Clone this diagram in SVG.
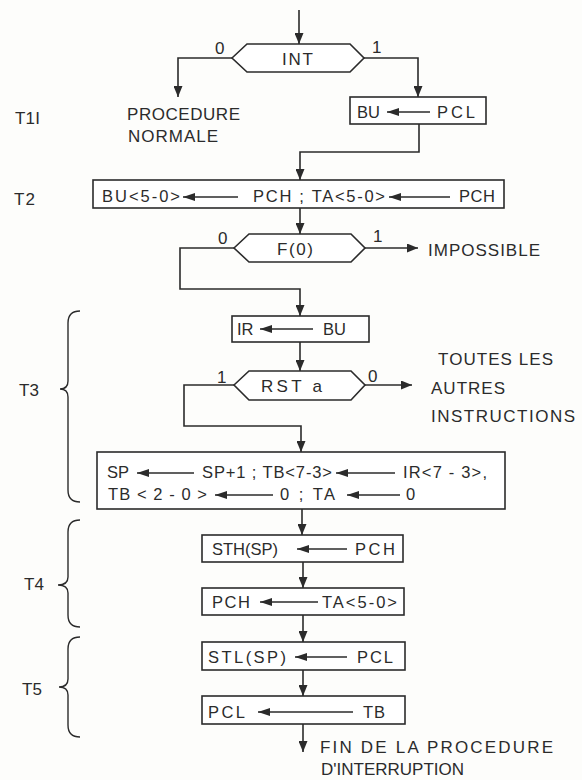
<svg xmlns="http://www.w3.org/2000/svg" width="582" height="780" viewBox="0 0 582 780">
<defs>
<marker id="ah" viewBox="0 0 11 9" refX="11" refY="4.5" markerWidth="11" markerHeight="9" markerUnits="userSpaceOnUse" orient="auto">
<path d="M0,0 L11,4.5 L0,9 z" fill="#2b2b2b"/>
</marker>
<marker id="th" viewBox="0 0 12 8" refX="12" refY="4" markerWidth="12" markerHeight="8" markerUnits="userSpaceOnUse" orient="auto">
<path d="M0,0 L12,4 L0,8 z" fill="#2b2b2b"/>
</marker>
<style>
text{font-family:"Liberation Sans","DejaVu Sans",Arial,sans-serif;font-size:17px;fill:#2b2b2b}
.bx{fill:#fff;stroke:#2b2b2b;stroke-width:1.6}
.cn{fill:none;stroke:#2b2b2b;stroke-width:1.6;marker-end:url(#ah)}
.ta{fill:none;stroke:#2b2b2b;stroke-width:1.6;marker-end:url(#th)}
.br{fill:none;stroke:#2b2b2b;stroke-width:1.4}
.bt{font-size:16.5px}
</style>
</defs>
<rect width="582" height="780" fill="#fdfdfb"/>

<g id="connectors">
<path class="cn" d="M299,10 V44"/>
<path class="cn" d="M232,58 H178 V97"/>
<path class="cn" d="M364,58 H418 V97"/>
<path class="cn" d="M419,124 V152 H300 V180"/>
<path class="cn" d="M300,208 V234"/>
<path class="cn" d="M365,248 H418"/>
<path class="cn" d="M234,248 H180 V289 H300 V316"/>
<path class="cn" d="M300,342 V371"/>
<path class="cn" d="M365,385 H412"/>
<path class="cn" d="M234,385 H184 V426 H301 V452"/>
<path class="cn" d="M302,509 V535"/>
<path class="cn" d="M303,562 V588"/>
<path class="cn" d="M303,615 V642"/>
<path class="cn" d="M303,670 V696"/>
<path class="cn" d="M303,724 V752"/>
</g>

<g id="labels-time">
<text x="15" y="124" textLength="25">T1I</text>
<text x="14" y="205" textLength="21">T2</text>
<text x="19" y="396">T3</text>
<text x="24" y="590">T4</text>
<text x="22" y="695">T5</text>
<path class="br" d="M80,311 Q68,311 68,323 V381 Q68,389 60,389 Q68,389 68,397 V490 Q68,502 80,502"/>
<path class="br" d="M80,520 Q68,520 68,532 V577 Q68,585 58,585 Q68,585 68,593 V615 Q68,627 80,627"/>
<path class="br" d="M80,637 Q68,637 68,649 V679 Q68,687 59,687 Q68,687 68,695 V725 Q68,737 80,737"/>
</g>

<g id="int">
<polygon class="bx" points="232,58 247,44 350,44 364,58 350,72 247,72"/>
<text x="282" y="65" textLength="31">INT</text>
<text x="215" y="54">0</text>
<text x="372" y="53">1</text>
</g>

<g id="normale">
<text x="127" y="120" textLength="113">PROCEDURE</text>
<text x="128" y="142" textLength="90">NORMALE</text>
</g>

<g id="bu-pcl">
<rect class="bx" x="350" y="97" width="136" height="27"/>
<text class="bt" x="357" y="118">BU</text>
<path class="ta" d="M430,112 H387"/>
<text class="bt" x="437" y="118" textLength="38">PCL</text>
</g>

<g id="t2-box">
<rect class="bx" x="93" y="180" width="411" height="28"/>
<text class="bt" x="102" y="202" textLength="78">BU&lt;5-0&gt;</text>
<path class="ta" d="M238,197 H183"/>
<text class="bt" x="253" y="202" textLength="132">PCH ; TA&lt;5-0&gt;</text>
<path class="ta" d="M450,197 H389"/>
<text class="bt" x="459" y="202" textLength="36">PCH</text>
</g>

<g id="f0">
<polygon class="bx" points="234,248 249,234 351,234 365,248 351,262 249,262"/>
<text x="277" y="255" textLength="36">F(0)</text>
<text x="218" y="244">0</text>
<text x="373" y="242">1</text>
<text x="428" y="256" textLength="112">IMPOSSIBLE</text>
</g>

<g id="ir-bu">
<rect class="bx" x="232" y="316" width="137" height="26"/>
<text class="bt" x="237" y="335">IR</text>
<path class="ta" d="M313,329 H260"/>
<text class="bt" x="323" y="335">BU</text>
</g>

<g id="rst">
<polygon class="bx" points="234,385 249,371 351,371 365,385 351,400 249,400"/>
<text x="261" y="392" textLength="61">RST a</text>
<text x="217" y="383">1</text>
<text x="368" y="382">0</text>
<text x="438" y="365" textLength="115">TOUTES LES</text>
<text x="431" y="394" textLength="74">AUTRES</text>
<text x="431" y="422" textLength="144">INSTRUCTIONS</text>
</g>

<g id="sp-box">
<rect class="bx" x="97" y="452" width="408" height="57"/>
<text class="bt" x="107" y="478">SP</text>
<path class="ta" d="M194,473 H137"/>
<text class="bt" x="202" y="478" textLength="130">SP+1 ; TB&lt;7-3&gt;</text>
<path class="ta" d="M395,473 H336"/>
<text class="bt" x="403" y="478" textLength="84">IR&lt;7 - 3&gt;,</text>
<text class="bt" x="108" y="500" textLength="99">TB &lt; 2 - 0 &gt;</text>
<path class="ta" d="M273,495 H215"/>
<text class="bt" x="280" y="500" textLength="55">0 ; TA</text>
<path class="ta" d="M400,495 H347"/>
<text class="bt" x="406" y="500">0</text>
</g>

<g id="sth">
<rect class="bx" x="202" y="535" width="201" height="27"/>
<text class="bt" x="212" y="555" textLength="66">STH(SP)</text>
<path class="ta" d="M347,549 H297"/>
<text class="bt" x="355" y="555" textLength="40">PCH</text>
</g>

<g id="pch">
<rect class="bx" x="202" y="588" width="202" height="27"/>
<text class="bt" x="212" y="608" textLength="38">PCH</text>
<path class="ta" d="M318,602 H260"/>
<text class="bt" x="322" y="608" textLength="75">TA&lt;5-0&gt;</text>
</g>

<g id="stl">
<rect class="bx" x="202" y="642" width="203" height="28"/>
<text class="bt" x="208" y="663" textLength="78">STL(SP)</text>
<path class="ta" d="M347,657 H295"/>
<text class="bt" x="357" y="663" textLength="36">PCL</text>
</g>

<g id="pcl">
<rect class="bx" x="202" y="696" width="203" height="28"/>
<text class="bt" x="208" y="718" textLength="37">PCL</text>
<path class="ta" d="M353,712 H258"/>
<text class="bt" x="363" y="718" textLength="22">TB</text>
</g>

<g id="fin">
<text x="320" y="753" textLength="233">FIN DE LA PROCEDURE</text>
<text x="321" y="775">D'INTERRUPTION</text>
</g>
</svg>
